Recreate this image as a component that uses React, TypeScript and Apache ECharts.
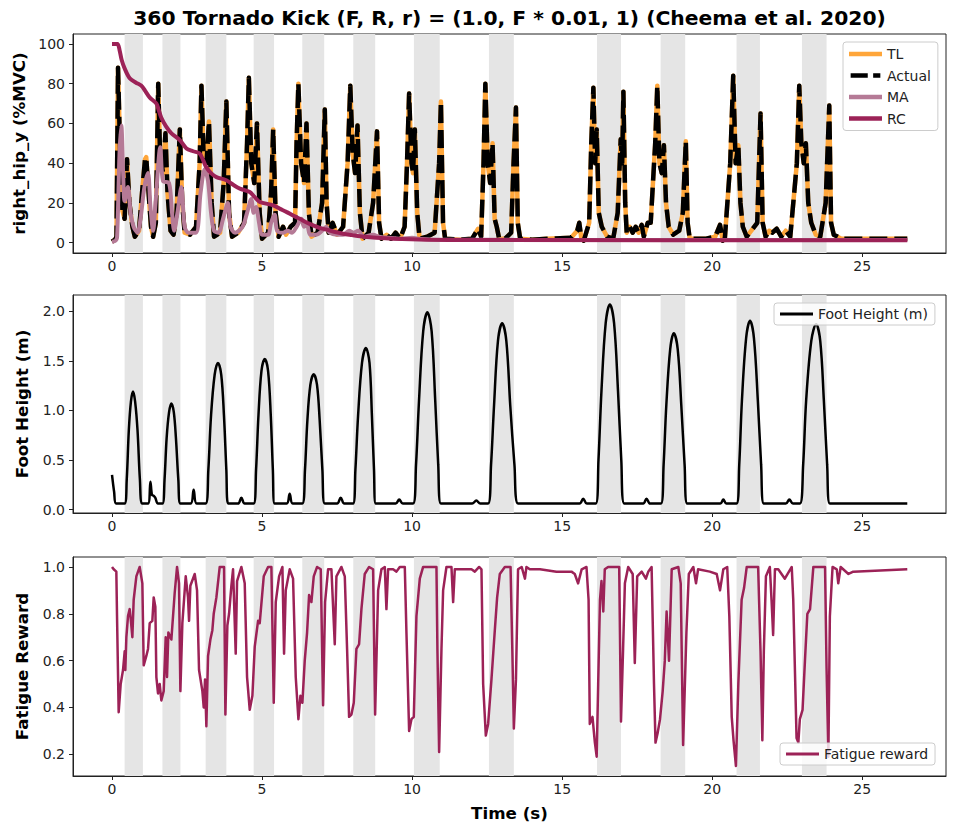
import React, { useEffect, useRef } from 'react';
import * as echarts from 'echarts';

const TITLE = '360 Tornado Kick (F, R, r) = (1.0, F * 0.01, 1) (Cheema et al. 2020)';
const FONT = 'DejaVu Sans';

// shaded intervals (s)
const bandStart = [0.42, 1.68, 3.12, 4.72, 6.34, 8.04, 10.06, 12.56, 16.16, 18.28, 20.81, 22.99];
const bandEnd = [1.03, 2.28, 3.81, 5.40, 7.07, 8.77, 10.92, 13.39, 16.96, 19.10, 21.59, 23.81];

const xTicks = [0, 5, 10, 15, 20, 25];
const emgTicks = [0, 20, 40, 60, 80, 100];
const footTicks = [0, 0.5, 1.0, 1.5, 2.0];
const fatigueTicks = [0.2, 0.4, 0.6, 0.8, 1.0];

// [time (s), %MVC]
const actualPts: number[][] = [
  [0,0.5],[0.1,1.5],[0.15,3],[0.2,88],[0.28,40],[0.35,16],[0.42,12],[0.5,42],[0.58,20],[0.68,8],[0.76,3],[0.9,6],[1.0,25],[1.1,42],[1.14,43],[1.22,25],[1.3,8],[1.37,3],[1.46,10],[1.54,80],[1.6,45],[1.7,35],[1.78,55],[1.85,25],[1.95,6],[2.05,4],[2.15,15],[2.26,57],[2.34,20],[2.42,5],[2.6,4],[2.8,8],[2.92,40],[2.98,79],[3.05,45],[3.15,40],[3.23,61],[3.32,20],[3.4,3],[3.6,5],[3.72,30],[3.81,71],[3.9,15],[4.0,3],[4.2,5],[4.4,10],[4.5,50],[4.56,83],[4.64,40],[4.74,30],[4.83,60],[4.92,15],[5.0,2],[5.2,5],[5.3,25],[5.37,57],[5.45,15],[5.55,3],[5.7,8],[5.8,4],[5.95,8],[6.1,10],[6.15,50],[6.21,80],[6.3,40],[6.4,30],[6.48,60],[6.56,15],[6.65,3],[6.85,5],[7.0,20],[7.09,67],[7.15,20],[7.22,5],[7.35,10],[7.5,4],[7.7,8],[7.85,40],[7.94,79],[8.02,45],[8.1,35],[8.18,59],[8.26,15],[8.35,2],[8.55,5],[8.7,20],[8.83,56],[8.9,10],[8.98,2],[9.15,4],[9.3,2],[9.45,5],[9.6,2],[9.75,8],[9.83,40],[9.9,75],[9.98,40],[10.03,35],[10.09,57],[10.17,15],[10.25,2],[10.5,3],[10.75,5],[10.9,40],[10.96,71],[11.03,10],[11.1,2],[11.6,1.5],[12.0,2],[12.2,7],[12.3,3],[12.38,40],[12.44,80],[12.52,40],[12.6,30],[12.68,50],[12.75,12],[12.82,8],[12.9,2],[13.1,2],[13.3,5],[13.38,40],[13.46,68],[13.52,10],[13.6,2],[14.0,1.5],[14.5,2],[15.3,2.5],[15.5,6],[15.57,10],[15.64,2],[15.72,1],[15.9,10],[15.97,50],[16.04,78],[16.1,40],[16.15,57],[16.22,15],[16.32,8],[16.5,3],[16.7,2],[16.85,15],[16.95,52],[17.0,40],[17.04,76],[17.1,20],[17.15,5],[17.25,8],[17.35,5],[17.45,8],[17.55,5],[17.65,9],[17.72,3],[17.85,10],[17.95,10],[18.1,50],[18.17,79],[18.24,40],[18.32,35],[18.39,49],[18.46,20],[18.55,8],[18.7,4],[18.9,6],[19.02,15],[19.12,51],[19.18,10],[19.25,2],[19.8,2],[20.1,3],[20.26,9],[20.35,1],[20.42,2],[20.6,40],[20.7,84],[20.78,40],[20.87,49],[20.94,20],[21.02,8],[21.15,3],[21.5,10],[21.61,65],[21.68,10],[21.78,3],[21.9,6],[22.0,5],[22.15,7],[22.3,3],[22.45,6],[22.6,3],[22.82,40],[22.9,79],[22.97,50],[23.05,40],[23.12,50],[23.2,20],[23.3,10],[23.45,4],[23.6,3],[23.78,20],[23.9,69],[23.96,10],[24.05,4],[24.3,2],[25.0,2],[26.5,2],
];
// TL tracks the measured signal so closely that it is hidden beneath it
const tlPts: number[][] = actualPts;

const maPts: number[][] = [
  [0,0.5],[0.12,1],[0.17,3],[0.25,45],[0.31,59],[0.37,35],[0.42,21],[0.53,28],[0.62,15],[0.72,8],[0.85,5],[0.95,12],[1.08,28],[1.2,35],[1.28,18],[1.37,6],[1.45,20],[1.61,48],[1.7,31],[1.9,30],[2.0,15],[2.07,6],[2.18,15],[2.31,28],[2.42,8],[2.55,5],[2.8,5],[2.95,25],[3.09,37],[3.2,31],[3.3,15],[3.4,6],[3.55,5],[3.7,12],[3.86,20],[3.95,8],[4.1,5],[4.35,8],[4.5,15],[4.64,22],[4.72,15],[4.8,18],[4.9,10],[5.0,4],[5.2,4],[5.3,10],[5.42,14],[5.5,6],[5.7,5],[5.85,6],[6.0,5],[6.15,8],[6.31,12],[6.4,8],[6.5,9],[6.6,4],[6.8,4],[7.0,6],[7.14,8],[7.25,5],[7.5,4],[7.7,4],[7.9,6],[8.05,5],[8.2,6],[8.4,3],[8.7,4],[8.9,3],[9.2,2.5],[9.6,2],[10.0,2.5],[10.3,1.8],[11,1.5],[12,1.5],[13,1.5],[14,1.3],[26.5,1.3],
];

const rcPts: number[][] = [
  [0,100],[0.18,100],[0.25,97],[0.32,92],[0.42,87.7],[0.59,82.7],[0.8,80.5],[0.98,79],[1.1,76.5],[1.26,73],[1.48,70],[1.55,67],[1.64,63],[1.8,58.5],[1.98,55],[2.26,51.6],[2.48,47.4],[2.7,46],[2.92,44.9],[3.05,41],[3.14,38],[3.3,35],[3.48,33],[3.81,31.4],[4.05,29],[4.26,27.2],[4.59,25.5],[4.75,23],[4.92,20.5],[5.37,18.8],[5.6,17],[5.81,15.5],[6.05,13.5],[6.26,12],[6.5,10],[6.7,8.7],[6.9,7.5],[7.14,6.6],[7.4,5.5],[7.7,4.5],[8.0,3.8],[8.26,3.2],[8.8,2.5],[9.37,2],[10.5,1.5],[12,1.3],[26.5,1.2],
];

// [time (s), foot height (m)]
const footPts: number[][] = [
  [0,0.35],[0.07,0.18],[0.14,0.06],
  [0.42,0.06],[0.49,0.30],[0.56,0.80],[0.63,1.09],[0.70,1.19],[0.77,1.09],[0.85,0.80],[0.93,0.30],[1.01,0.06],
  [1.2,0.06],[1.28,0.28],[1.33,0.15],[1.38,0.14],[1.44,0.12],[1.53,0.06],
  [1.68,0.06],[1.75,0.30],[1.82,0.72],[1.90,0.98],[1.98,1.07],[2.06,0.98],[2.13,0.72],[2.21,0.30],[2.28,0.06],
  [2.62,0.06],[2.72,0.20],[2.82,0.06],
  [3.12,0.06],[3.21,0.40],[3.30,0.95],[3.42,1.36],[3.53,1.48],[3.64,1.36],[3.73,0.95],[3.81,0.40],[3.87,0.06],
  [4.2,0.06],[4.31,0.12],[4.42,0.06],
  [4.72,0.06],[4.80,0.40],[4.88,0.95],[4.98,1.40],[5.09,1.52],[5.20,1.40],[5.29,0.95],[5.36,0.40],[5.42,0.06],
  [5.82,0.06],[5.92,0.16],[6.02,0.06],
  [6.34,0.06],[6.43,0.40],[6.51,0.90],[6.61,1.26],[6.72,1.365],[6.83,1.26],[6.92,0.90],[7.01,0.40],[7.09,0.06],
  [7.5,0.06],[7.62,0.12],[7.74,0.06],
  [8.03,0.06],[8.11,0.40],[8.20,0.95],[8.33,1.48],[8.46,1.63],[8.58,1.48],[8.66,0.95],[8.73,0.40],[8.79,0.06],
  [9.45,0.06],[9.57,0.10],[9.69,0.06],
  [10.03,0.06],[10.13,0.45],[10.23,1.10],[10.37,1.80],[10.51,1.99],[10.65,1.80],[10.77,1.10],[10.87,0.45],[10.96,0.06],
  [12.0,0.06],[12.14,0.09],[12.27,0.06],
  [12.53,0.06],[12.63,0.45],[12.73,1.05],[12.86,1.70],[13.0,1.88],[13.14,1.70],[13.27,1.05],[13.41,0.45],[13.53,0.06],
  [15.58,0.06],[15.7,0.11],[15.82,0.06],
  [16.12,0.06],[16.21,0.50],[16.31,1.20],[16.45,1.88],[16.59,2.07],[16.73,1.88],[16.86,1.20],[16.97,0.50],[17.07,0.06],
  [17.7,0.06],[17.81,0.11],[17.93,0.06],
  [18.29,0.06],[18.38,0.45],[18.47,1.05],[18.60,1.62],[18.72,1.78],[18.85,1.62],[18.97,1.05],[19.08,0.45],[19.17,0.06],
  [20.27,0.06],[20.37,0.10],[20.47,0.06],
  [20.81,0.06],[20.90,0.45],[20.99,1.10],[21.13,1.73],[21.26,1.905],[21.39,1.73],[21.52,1.10],[21.63,0.45],[21.72,0.06],
  [22.45,0.06],[22.57,0.10],[22.69,0.06],
  [22.92,0.06],[23.03,0.45],[23.13,1.10],[23.30,1.70],[23.46,1.87],[23.60,1.70],[23.72,1.10],[23.83,0.45],[23.92,0.06],
  [26.5,0.06],
];

// [time (s), fatigue reward]
const fatiguePts: number[][] = [
  [0,1.0],[0.056,0.99],[0.144,0.98],[0.167,0.79],[0.222,0.38],[0.289,0.50],[0.367,0.56],[0.422,0.64],[0.444,0.56],[0.478,0.70],[0.533,0.79],[0.589,0.82],[0.622,0.78],[0.678,0.70],[0.722,0.86],[0.811,0.96],[0.922,1.0],[1.011,0.93],[1.056,0.58],[1.144,0.62],[1.2,0.65],[1.256,0.76],[1.344,0.77],[1.389,0.87],[1.444,0.83],[1.478,0.53],[1.533,0.46],[1.589,0.50],[1.644,0.43],[1.722,0.47],[1.789,0.70],[1.833,0.53],[1.878,0.72],[1.978,0.69],[2.089,0.89],[2.167,1.0],[2.233,0.93],[2.278,0.47],[2.344,0.76],[2.456,0.96],[2.533,0.87],[2.567,0.77],[2.611,0.92],[2.756,0.97],[2.833,0.90],[2.9,0.56],[3.011,0.47],[3.056,0.40],[3.1,0.52],[3.144,0.32],[3.2,0.62],[3.278,0.69],[3.344,0.73],[3.389,0.80],[3.478,0.87],[3.589,1.0],[3.733,1.0],[3.778,0.37],[3.844,0.75],[3.9,0.80],[3.978,0.92],[4.033,0.99],[4.122,0.63],[4.167,0.94],[4.311,1.0],[4.422,0.93],[4.5,0.53],[4.589,0.39],[4.678,0.45],[4.756,0.66],[4.867,0.77],[4.922,0.76],[5.056,0.96],[5.2,1.0],[5.311,1.0],[5.389,0.42],[5.456,0.85],[5.567,0.96],[5.678,1.0],[5.733,0.63],[5.789,0.90],[5.922,0.99],[6.033,0.95],[6.122,0.53],[6.211,0.35],[6.278,0.45],[6.344,0.42],[6.422,0.60],[6.5,0.72],[6.567,0.88],[6.644,0.85],[6.722,0.96],[6.833,1.0],[6.956,0.99],[7.033,0.41],[7.1,0.85],[7.2,0.99],[7.311,0.99],[7.422,0.67],[7.478,0.96],[7.644,1.0],[7.756,0.96],[7.833,0.65],[7.9,0.36],[7.978,0.37],[8.056,0.42],[8.144,0.65],[8.233,0.67],[8.311,0.82],[8.422,0.97],[8.567,1.0],[8.7,0.99],[8.767,0.37],[8.867,0.90],[8.978,0.99],[9.089,1.0],[9.144,0.82],[9.2,0.99],[9.367,0.99],[9.478,0.98],[9.589,1.0],[9.756,1.0],[9.811,0.72],[9.9,0.30],[9.978,0.35],[10.056,0.36],[10.144,0.79],[10.256,0.95],[10.367,1.0],[10.811,1.0],[10.844,0.64],[10.9,0.21],[10.978,0.65],[11.033,0.90],[11.144,1.0],[11.311,1.0],[11.367,0.85],[11.422,0.99],[11.978,0.99],[12.089,0.98],[12.233,1.0],[12.311,0.99],[12.367,0.50],[12.456,0.28],[12.533,0.33],[12.644,0.52],[12.756,0.73],[12.833,0.87],[12.922,0.97],[13.089,1.0],
  [13.28,1.0],[13.34,0.64],[13.39,0.31],[13.46,0.52],[13.53,0.99],[13.65,1.0],[13.76,0.95],[13.81,1.0],[13.92,0.99],[14.26,0.99],[14.81,0.98],[15.31,0.98],[15.42,0.97],[15.53,0.93],[15.65,0.99],[15.81,1.0],[15.88,0.86],[15.92,0.33],[16.01,0.36],[16.09,0.25],[16.15,0.19],[16.2,0.50],[16.26,0.86],[16.31,0.94],[16.37,0.81],[16.42,0.99],[16.53,1.0],[16.9,1.0],[16.96,0.34],[17.03,0.65],[17.09,0.93],[17.2,1.0],[17.35,0.97],[17.42,0.59],[17.5,0.96],[17.65,0.98],[17.79,0.95],[17.87,0.98],[17.98,1.0],[18.06,0.50],[18.11,0.25],[18.18,0.29],[18.26,0.35],[18.35,0.47],[18.42,0.60],[18.48,0.81],[18.56,0.60],[18.65,0.99],[18.87,1.0],[18.95,0.93],[19.03,0.24],[19.14,0.72],[19.22,0.97],[19.37,1.0],[19.46,0.93],[19.53,0.99],[19.92,0.98],[20.15,0.97],[20.26,0.90],[20.37,0.99],[20.5,1.0],[20.57,0.79],[20.65,0.36],[20.71,0.26],[20.79,0.15],[20.87,0.50],[20.98,0.86],[21.06,0.91],[21.15,1.0],[21.53,1.0],[21.61,0.64],[21.67,0.26],[21.72,0.64],[21.79,0.96],[21.92,1.0],[21.98,0.85],[22.03,0.71],[22.09,0.99],[22.2,0.99],[22.42,0.95],[22.65,1.0],[22.7,0.86],[22.81,0.27],[22.87,0.25],[22.92,0.35],[23.01,0.39],[23.09,0.60],[23.17,0.80],[23.26,0.82],[23.37,1.0],[23.76,1.0],[23.81,0.57],[23.87,0.19],[23.92,0.79],[24.01,1.0],[24.15,0.99],[24.2,0.93],[24.28,1.0],[24.54,0.97],[24.7,0.98],[26.5,0.99],
];

const TXT = '#222222';
const bands = bandStart.map((s, i) => [{ xAxis: s }, { xAxis: bandEnd[i] }]);

function xAxisFor(gridIndex: number, withName: boolean) {
  return {
    type: 'value', gridIndex, min: -1.3, max: 27.79,
    name: withName ? 'Time (s)' : '', nameLocation: 'middle', nameGap: 28,
    nameTextStyle: { fontFamily: FONT, fontSize: 16.7, fontWeight: 'bold', color: '#000' },
    axisLine: { show: true, onZero: false, lineStyle: { color: TXT, width: 1 } },
    axisTick: { show: true, customValues: xTicks, length: 4, lineStyle: { color: TXT } },
    axisLabel: { customValues: xTicks, fontFamily: FONT, fontSize: 14, color: TXT, margin: 6, formatter: (v: number) => String(v) },
    splitLine: { show: false },
  };
}

function yAxisFor(gridIndex: number, name: string, min: number, max: number, ticks: number[], digits: number) {
  return {
    type: 'value', gridIndex, min, max, name, nameLocation: 'middle', nameGap: 43, nameRotate: 90,
    nameTextStyle: { fontFamily: FONT, fontSize: 16.7, fontWeight: 'bold', color: '#000' },
    axisLine: { show: true, onZero: false, lineStyle: { color: TXT, width: 1 } },
    axisTick: { show: true, customValues: ticks, length: 4, lineStyle: { color: TXT } },
    axisLabel: { customValues: ticks, fontFamily: FONT, fontSize: 14, color: TXT, margin: 8, formatter: (v: number) => v.toFixed(digits) },
    splitLine: { show: false },
  };
}

const legendBase = {
  orient: 'vertical', itemWidth: 33, itemGap: 7.5,
  padding: [5, 7, 5, 6], backgroundColor: 'rgba(255,255,255,0.8)',
  borderColor: '#cccccc', borderWidth: 1, borderRadius: 3,
  textStyle: { fontFamily: FONT, fontSize: 14, color: TXT },
};

const DASH_ICON = 'path://M0,0H19V5H0Z M25,0H33V5H25Z';

export default function App() {
  const ref = useRef<HTMLDivElement>(null);
  useEffect(() => {
    if (!ref.current) return;
    const chart = echarts.init(ref.current, undefined, { renderer: 'svg' });
    chart.setOption({
      animation: false,
      backgroundColor: '#ffffff',
      graphic: [
        { type: 'text', x: 509.5, y: 18, style: { text: TITLE, fontFamily: FONT, fontSize: 20.3, fontWeight: 'bold', fill: '#000', textAlign: 'center', textVerticalAlign: 'middle' } },
      ],
      grid: [
        { left: 73, top: 34, width: 873, height: 219, show: true, borderColor: TXT, borderWidth: 1, backgroundColor: 'transparent' },
        { left: 73, top: 295, width: 873, height: 218, show: true, borderColor: TXT, borderWidth: 1, backgroundColor: 'transparent' },
        { left: 73, top: 557, width: 873, height: 219, show: true, borderColor: TXT, borderWidth: 1, backgroundColor: 'transparent' },
      ],
      xAxis: [xAxisFor(0, false), xAxisFor(1, false), xAxisFor(2, true)],
      yAxis: [
        yAxisFor(0, 'right_hip_y (%MVC)', -5.2, 105, emgTicks, 0),
        yAxisFor(1, 'Foot Height (m)', -0.035, 2.165, footTicks, 1),
        yAxisFor(2, 'Fatigue Reward', 0.1075, 1.0425, fatigueTicks, 1),
      ],
      legend: [
        {
          ...legendBase, left: 843, top: 42, itemHeight: 4.5,
          data: [
            { name: 'TL', icon: 'rect' },
            { name: 'Actual', icon: DASH_ICON },
            { name: 'MA', icon: 'rect' },
            { name: 'RC', icon: 'rect' },
          ],
        },
        { ...legendBase, left: 774, top: 303, padding: [4, 7, 4, 6], itemHeight: 2.8, data: [{ name: 'Foot Height (m)', icon: 'rect' }] },
        { ...legendBase, left: 780, top: 743, padding: [4, 7, 4, 6], itemHeight: 2.8, data: [{ name: 'Fatigue reward', icon: 'rect' }] },
      ],
      series: [
        {
          name: 'TL', type: 'line', xAxisIndex: 0, yAxisIndex: 0, data: tlPts, symbol: 'none',
          lineStyle: { color: '#FFA63A', width: 4.5, join: 'round' }, itemStyle: { color: '#FFA63A' },
          markArea: { silent: true, itemStyle: { color: '#e5e5e5' }, data: bands },
        },
        {
          name: 'Actual', type: 'line', xAxisIndex: 0, yAxisIndex: 0, data: actualPts, symbol: 'none',
          lineStyle: { color: '#000000', width: 4.5, type: [18, 7], join: 'round' }, itemStyle: { color: '#000000' },
        },
        {
          name: 'MA', type: 'line', xAxisIndex: 0, yAxisIndex: 0, data: maPts, symbol: 'none', smooth: 0.3,
          lineStyle: { color: '#B57A96', width: 4 }, itemStyle: { color: '#B57A96' },
        },
        {
          name: 'RC', type: 'line', xAxisIndex: 0, yAxisIndex: 0, data: rcPts, symbol: 'none', smooth: 0.3,
          lineStyle: { color: '#9C2257', width: 4 }, itemStyle: { color: '#9C2257' },
        },
        {
          name: 'Foot Height (m)', type: 'line', xAxisIndex: 1, yAxisIndex: 1, data: footPts, symbol: 'none', smooth: 0.35,
          lineStyle: { color: '#000000', width: 2.5 }, itemStyle: { color: '#000000' },
          markArea: { silent: true, itemStyle: { color: '#e5e5e5' }, data: bands },
        },
        {
          name: 'Fatigue reward', type: 'line', xAxisIndex: 2, yAxisIndex: 2, data: fatiguePts, symbol: 'none',
          lineStyle: { color: '#9C2257', width: 2.5, join: 'round' }, itemStyle: { color: '#9C2257' },
          markArea: { silent: true, itemStyle: { color: '#e5e5e5' }, data: bands },
        },
      ],
    });
    return () => chart.dispose();
  }, []);
  return <div ref={ref} style={{ position: 'fixed', left: 0, top: 0, width: 957, height: 835 }} />;
}
